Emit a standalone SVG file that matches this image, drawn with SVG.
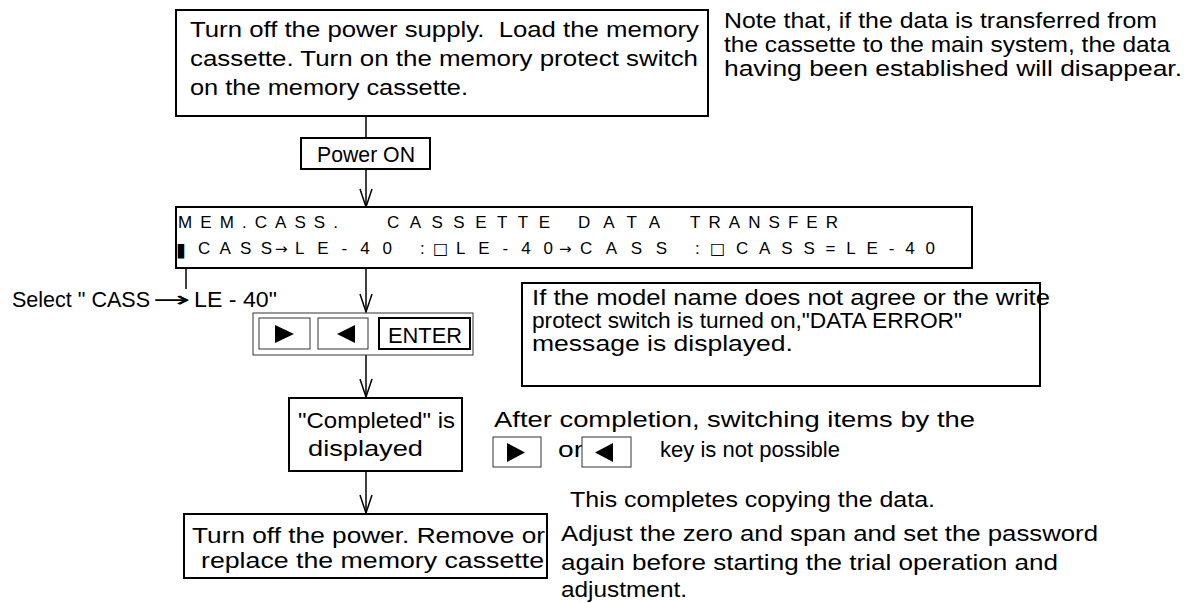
<svg xmlns="http://www.w3.org/2000/svg" width="1201" height="603" viewBox="0 0 1201 603">
<defs>
<style>
.t{font-family:"Liberation Sans",Arial,sans-serif;font-size:22px;fill:#000}
.lcd{font-family:"Liberation Sans",Arial,sans-serif;font-size:17px;fill:#000}
.sym{font-family:"DejaVu Sans",sans-serif;fill:#000}
.box{fill:#fff;stroke:#000;stroke-width:2}
.key{fill:#fff;stroke:#333;stroke-width:1}
.ln{stroke:#000;stroke-width:1.5;fill:none}
.tri{fill:#000}
</style>
<marker id="v" markerUnits="userSpaceOnUse" markerWidth="20" markerHeight="20" refX="0" refY="0" orient="auto" overflow="visible">
<path d="M-18,-6 L0,0 L-18,6" fill="none" stroke="#000" stroke-width="1.5"/>
</marker>
</defs>
<rect width="1201" height="603" fill="#fff"/>

<g id="connectors">
<line class="ln" x1="366" y1="116" x2="366" y2="138"/>
<line class="ln" x1="366" y1="169" x2="366" y2="207" marker-end="url(#v)"/>
<line class="ln" x1="366" y1="268" x2="366" y2="312" marker-end="url(#v)"/>
<line class="ln" x1="366" y1="355" x2="366" y2="397" marker-end="url(#v)"/>
<line class="ln" x1="366" y1="471" x2="366" y2="513" marker-end="url(#v)"/>
<line class="ln" x1="186" y1="268" x2="186" y2="289"/>
</g>

<g id="step-load">
<rect class="box" x="176" y="10" width="532" height="106"/>
<text class="t" x="190" y="37" textLength="509" lengthAdjust="spacingAndGlyphs">Turn off the power supply.&#160; Load the memory</text>
<text class="t" x="190" y="66" textLength="508" lengthAdjust="spacingAndGlyphs">cassette. Turn on the memory protect switch</text>
<text class="t" x="190" y="95" textLength="278" lengthAdjust="spacingAndGlyphs">on the memory cassette.</text>
</g>

<g id="note-transfer">
<text class="t" x="724" y="28" textLength="433" lengthAdjust="spacingAndGlyphs">Note that, if the data is transferred from</text>
<text class="t" x="724" y="52" textLength="446" lengthAdjust="spacingAndGlyphs">the cassette to the main system, the data</text>
<text class="t" x="724" y="76" textLength="458" lengthAdjust="spacingAndGlyphs">having been established will disappear.</text>
</g>

<g id="power-on">
<rect class="box" x="301" y="138" width="129" height="31"/>
<text class="t" x="317" y="162" textLength="98" lengthAdjust="spacingAndGlyphs">Power ON</text>
</g>

<g id="lcd">
<rect class="box" x="176" y="207" width="796" height="61"/>
<text class="lcd" x="178" y="228" textLength="160" lengthAdjust="spacing">MEM.CASS.</text>
<text class="lcd" x="387" y="228" textLength="163" lengthAdjust="spacing">CASSETTE</text>
<text class="lcd" x="578" y="228" textLength="82" lengthAdjust="spacing">DATA</text>
<text class="lcd" x="690" y="228" textLength="148" lengthAdjust="spacing">TRANSFER</text>
<text class="sym" x="177" y="256" font-size="19" textLength="8" lengthAdjust="spacingAndGlyphs">■</text>
<text class="lcd" x="198" y="254" textLength="74" lengthAdjust="spacing">CASS</text>
<text class="sym" x="275" y="254" font-size="15">→</text>
<text class="lcd" x="295" y="254" textLength="97" lengthAdjust="spacing">LE-40</text>
<text class="lcd" x="420" y="254">:</text>
<text class="sym" x="433" y="254" font-size="16">□</text>
<text class="lcd" x="456" y="254" textLength="97" lengthAdjust="spacing">LE-40</text>
<text class="sym" x="559" y="254" font-size="15">→</text>
<text class="lcd" x="580" y="254" textLength="87" lengthAdjust="spacing">CASS</text>
<text class="lcd" x="695" y="254">:</text>
<text class="sym" x="710" y="254" font-size="16">□</text>
<text class="lcd" x="736" y="254" textLength="199" lengthAdjust="spacing">CASS=LE-40</text>
</g>

<g id="select-label">
<text class="t" x="12" y="307" textLength="138" lengthAdjust="spacingAndGlyphs">Select " CASS</text>
<text class="sym" x="153" y="307" font-size="22" textLength="38" lengthAdjust="spacingAndGlyphs">→</text>
<text class="t" x="194" y="307" textLength="83" lengthAdjust="spacingAndGlyphs">LE - 40"</text>
</g>

<g id="keys">
<rect class="key" x="253" y="313" width="220" height="42"/>
<rect class="key" x="259" y="318" width="51" height="31"/>
<polygon class="tri" points="275,325 275,343 294,334"/>
<rect class="key" x="318" y="318" width="50" height="31"/>
<polygon class="tri" points="355,325 355,343 337,334"/>
<rect x="379" y="318" width="91" height="31" fill="#fff" stroke="#000" stroke-width="2"/>
<text class="t" x="388" y="343" textLength="74" lengthAdjust="spacingAndGlyphs">ENTER</text>
</g>

<g id="note-error">
<rect class="box" x="522" y="283" width="518" height="103"/>
<text class="t" x="532" y="305" textLength="518" lengthAdjust="spacingAndGlyphs">If the model name does not agree or the write</text>
<text class="t" x="532" y="328" textLength="430" lengthAdjust="spacingAndGlyphs">protect switch is turned on,"DATA ERROR"</text>
<text class="t" x="532" y="351" textLength="261" lengthAdjust="spacingAndGlyphs">message is displayed.</text>
</g>

<g id="completed">
<rect class="box" x="289" y="398" width="173" height="73"/>
<text class="t" x="298" y="428" textLength="157" lengthAdjust="spacingAndGlyphs">"Completed" is</text>
<text class="t" x="308" y="456" textLength="115" lengthAdjust="spacingAndGlyphs">displayed</text>
</g>

<g id="note-after">
<text class="t" x="494" y="427" textLength="481" lengthAdjust="spacingAndGlyphs">After completion, switching items by the</text>
<rect class="key" x="493" y="437" width="48" height="30"/>
<polygon class="tri" points="507,443 507,462 525,452.5"/>
<text class="t" x="558" y="457" textLength="25" lengthAdjust="spacingAndGlyphs">or</text>
<rect class="key" x="582" y="437" width="49" height="30"/>
<polygon class="tri" points="613,443 613,462 595,452.5"/>
<text class="t" x="660" y="457" textLength="180" lengthAdjust="spacingAndGlyphs">key is not possible</text>
</g>

<g id="final">
<rect class="box" x="184" y="514" width="363" height="64"/>
<text class="t" x="192" y="543" textLength="353" lengthAdjust="spacingAndGlyphs">Turn off the power. Remove or</text>
<text class="t" x="201" y="568" textLength="343" lengthAdjust="spacingAndGlyphs">replace the memory cassette</text>
</g>

<g id="note-final">
<text class="t" x="570" y="507" textLength="365" lengthAdjust="spacingAndGlyphs">This completes copying the data.</text>
<text class="t" x="561" y="541" textLength="537" lengthAdjust="spacingAndGlyphs">Adjust the zero and span and set the password</text>
<text class="t" x="561" y="570" textLength="497" lengthAdjust="spacingAndGlyphs">again before starting the trial operation and</text>
<text class="t" x="561" y="597" textLength="126" lengthAdjust="spacingAndGlyphs">adjustment.</text>
</g>
</svg>
